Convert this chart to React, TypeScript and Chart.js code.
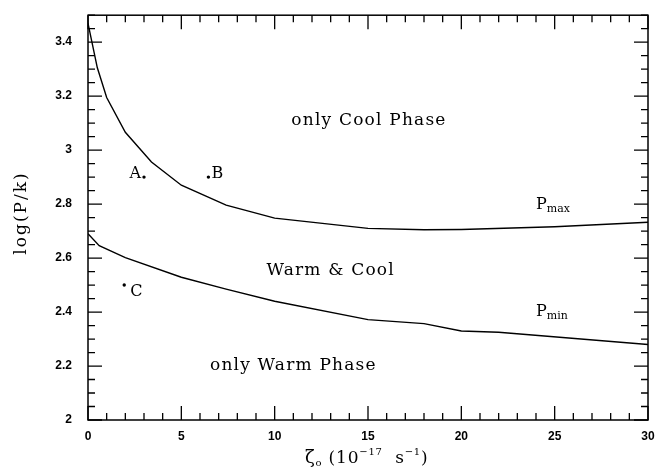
import React, { useEffect, useRef } from "react";
import { Chart, registerables } from "chart.js";

Chart.register(...registerables);

// Upper pressure limit of the two-phase region
const pmaxZeta = [0, 0.5, 1, 2, 3.4, 5, 7.4, 10, 15, 18, 20, 25, 30];
const pmaxLogP = [3.47, 3.305, 3.195, 3.066, 2.956, 2.87, 2.796, 2.748, 2.71, 2.705, 2.706, 2.716, 2.733];

// Lower pressure limit of the two-phase region
const pminZeta = [0, 0.6, 2, 5, 7.4, 10, 15, 18, 20, 22, 30];
const pminLogP = [2.69, 2.646, 2.602, 2.529, 2.485, 2.44, 2.372, 2.357, 2.33, 2.325, 2.28];

// Marked model points
const pointNames = ["A", "B", "C"];
const pointZeta = [3.0, 6.45, 1.94];
const pointLogP = [2.9, 2.9, 2.5];

// Axis ticks
const xTickValues = [0, 5, 10, 15, 20, 25, 30];
const xTickLabels = ["0", "5", "10", "15", "20", "25", "30"];
const yTickValues = [2, 2.2, 2.4, 2.6, 2.8, 3, 3.2, 3.4];
const yTickLabels = ["2", "2.2", "2.4", "2.6", "2.8", "3", "3.2", "3.4"];

// Region names, placed in data coordinates
const regionTexts = ["only Cool Phase", "Warm & Cool", "only Warm Phase"];
const regionZeta = [15.05, 13.0, 11.0];
const regionLogP = [3.108, 2.553, 2.203];

const SERIF = "'DejaVu Serif', serif";
const SANS = "'Liberation Sans', Arial, sans-serif";

type Seg = { t: string; size: number; dy: number };

function drawRich(ctx: CanvasRenderingContext2D, segs: Seg[], x: number, y: number, spacing: number) {
  let cx = x;
  for (const s of segs) {
    ctx.font = `${s.size}px ${SERIF}`;
    (ctx as any).letterSpacing = `${spacing}px`;
    ctx.fillText(s.t, cx, y + s.dy);
    cx += ctx.measureText(s.t).width;
  }
}

const framePlugin = {
  id: "frameAndText",
  afterDraw(chart: any) {
    const { ctx, chartArea } = chart;
    const xs = chart.scales.x;
    const ys = chart.scales.y;
    const { left, right, top, bottom } = chartArea;
    ctx.save();
    ctx.strokeStyle = "#000";
    ctx.fillStyle = "#000";

    // frame
    ctx.lineWidth = 1.5;
    ctx.strokeRect(left, top, right - left, bottom - top);

    // inward ticks on all four sides
    ctx.lineWidth = 1.3;
    ctx.beginPath();
    for (let i = 0; i <= 30; i++) {
      const px = xs.getPixelForValue(i);
      const len = i % 5 === 0 ? 14 : 7;
      ctx.moveTo(px, bottom);
      ctx.lineTo(px, bottom - len);
      ctx.moveTo(px, top);
      ctx.lineTo(px, top + len);
    }
    for (let i = 0; i <= 30; i++) {
      const py = ys.getPixelForValue(2 + i * 0.05);
      const len = i % 4 === 0 ? 14 : 7;
      ctx.moveTo(left, py);
      ctx.lineTo(left + len, py);
      ctx.moveTo(right, py);
      ctx.lineTo(right - len, py);
    }
    ctx.stroke();

    // region names
    ctx.textBaseline = "middle";
    ctx.textAlign = "center";
    ctx.font = `17px ${SERIF}`;
    (ctx as any).letterSpacing = "1.2px";
    regionTexts.forEach((t, i) => {
      ctx.fillText(t, xs.getPixelForValue(regionZeta[i]), ys.getPixelForValue(regionLogP[i]));
    });

    // point labels
    ctx.textBaseline = "alphabetic";
    ctx.font = `16px ${SERIF}`;
    (ctx as any).letterSpacing = "0px";
    pointNames.forEach((n, i) => {
      const px = xs.getPixelForValue(pointZeta[i]);
      const py = ys.getPixelForValue(pointLogP[i]);
      if (n === "A") {
        ctx.textAlign = "right";
        ctx.fillText(n, px - 3, py + 1);
      } else if (n === "B") {
        ctx.textAlign = "left";
        ctx.fillText(n, px + 3, py + 1);
      } else {
        ctx.textAlign = "left";
        ctx.fillText(n, px + 6, py + 11);
      }
    });

    // curve labels
    ctx.textAlign = "left";
    const curveLabel = (sub: string, zx: number, ly: number) => {
      drawRich(
        ctx,
        [
          { t: "P", size: 16, dy: 0 },
          { t: sub, size: 11, dy: 3 },
        ],
        xs.getPixelForValue(zx),
        ys.getPixelForValue(ly),
        0
      );
    };
    curveLabel("max", 24.0, 2.781);
    curveLabel("min", 24.0, 2.387);

    // x axis title
    const xSegs: Seg[] = [
      { t: "ζ", size: 18, dy: 0 },
      { t: "o", size: 10, dy: 3 },
      { t: " (10", size: 17, dy: 0 },
      { t: "−17", size: 10, dy: -8 },
      { t: "  s", size: 17, dy: 0 },
      { t: "−1", size: 10, dy: -8 },
      { t: ")", size: 17, dy: 0 },
    ];
    drawRich(ctx, xSegs, 305, 463, 0.8);

    // y axis title
    ctx.save();
    ctx.translate(26, 213);
    ctx.rotate(-Math.PI / 2);
    ctx.textAlign = "center";
    ctx.font = `17px ${SERIF}`;
    (ctx as any).letterSpacing = "2px";
    ctx.fillText("log(P/k)", 0, 0);
    ctx.restore();

    ctx.restore();
  },
};

export default function App() {
  const ref = useRef<HTMLCanvasElement | null>(null);

  useEffect(() => {
    if (!ref.current) return;
    const tickFont = { family: SANS, size: 12, weight: "bold" as const };
    const chart = new Chart(ref.current, {
      type: "line",
      data: {
        datasets: [
          {
            label: "Pmax",
            data: pmaxZeta.map((z, i) => ({ x: z, y: pmaxLogP[i] })),
            borderColor: "#000",
            borderWidth: 1.4,
            pointRadius: 0,
            tension: 0,
          },
          {
            label: "Pmin",
            data: pminZeta.map((z, i) => ({ x: z, y: pminLogP[i] })),
            borderColor: "#000",
            borderWidth: 1.4,
            pointRadius: 0,
            tension: 0,
          },
          {
            type: "scatter",
            label: "points",
            data: pointZeta.map((z, i) => ({ x: z, y: pointLogP[i] })),
            backgroundColor: "#000",
            borderWidth: 0,
            pointRadius: 1.7,
          } as any,
        ],
      },
      options: {
        animation: false,
        responsive: false,
        layout: { padding: { top: 9, right: 18, left: 0, bottom: 0 } },
        plugins: { legend: { display: false }, tooltip: { enabled: false } },
        scales: {
          x: {
            type: "linear",
            min: 0,
            max: 30,
            grid: { display: false },
            border: { display: false },
            ticks: {
              font: tickFont,
              color: "#000",
              padding: 1,
              maxRotation: 0,
              autoSkip: false,
              callback: (v: any) => {
                const i = xTickValues.indexOf(Number(v));
                return i >= 0 ? xTickLabels[i] : "";
              },
            },
            afterBuildTicks: (s: any) => {
              s.ticks = xTickValues.map((v) => ({ value: v }));
            },
            afterFit: (s: any) => {
              s.height = 50;
            },
          },
          y: {
            type: "linear",
            min: 2,
            max: 3.5,
            grid: { display: false },
            border: { display: false },
            ticks: {
              font: tickFont,
              color: "#000",
              padding: 8,
              autoSkip: false,
              callback: (v: any) => {
                const i = yTickValues.findIndex((t) => Math.abs(t - Number(v)) < 1e-9);
                return i >= 0 ? yTickLabels[i] : "";
              },
            },
            afterBuildTicks: (s: any) => {
              s.ticks = yTickValues.map((v) => ({ value: v }));
            },
            afterFit: (s: any) => {
              s.width = 88;
            },
          },
        },
      },
      plugins: [framePlugin],
    });
    return () => chart.destroy();
  }, []);

  return (
    <div style={{ position: "absolute", left: 0, top: 0, width: 666, height: 470, background: "#fff" }}>
      <canvas ref={ref} width={666} height={470} />
    </div>
  );
}
